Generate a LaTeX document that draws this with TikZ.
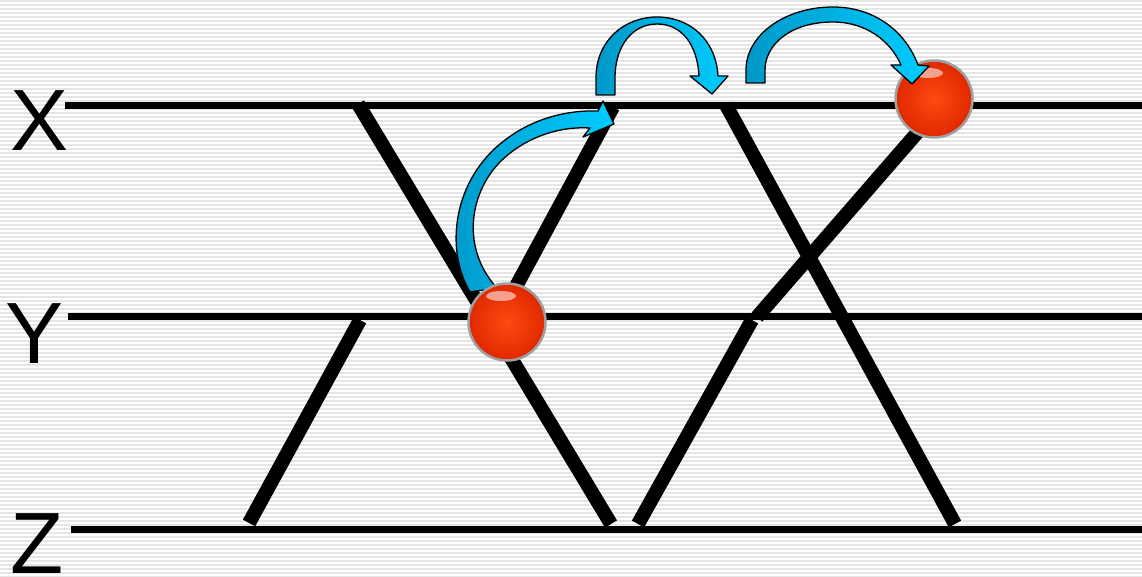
\documentclass[tikz,border=0pt]{standalone}
\usepackage{fontspec}
\setmainfont{Liberation Sans}
\definecolor{arrowdark}{HTML}{0098C8}
\definecolor{arrowlight}{HTML}{00CCFF}
\definecolor{ballred}{HTML}{FF3300}
\definecolor{balldark}{HTML}{E02800}
\definecolor{ballin}{HTML}{FF4A10}
\tikzset{
  stripe/.style={draw=gray!20, line width=1.4pt},
  level/.style={draw=black, line width=7pt},
  diag/.style={draw=black, line width=14pt, line cap=butt},
  lbl/.style={inner sep=0pt, anchor=base west, font=\fontsize{87}{87}\selectfont},
  ballnode/.style={circle, minimum size=77pt, inner sep=0pt, draw=gray!75, line width=2.5pt,
     inner color=ballin, outer color=balldark},
  bluearrow/.style={draw=black, line width=1.3pt, line join=round, left color=arrowdark, right color=arrowlight},
}
\begin{document}
\begin{tikzpicture}[x=1pt,y=-1pt]
\useasboundingbox (0,0) rectangle (1142,577);
\fill[white] (0,0) rectangle (1142,577);
\foreach \i in {0,...,144} \draw[stripe] (0,4*\i+1) -- (1142,4*\i+1);

% labels
\node[lbl] (lx) at (10,151) {X};
\node[lbl] (ly) at (5,363) {Y};
\node[lbl] (lz) at (10,573) {Z};

% level lines
\coordinate (xl) at (65,106);  \coordinate (xr) at (1142,106);
\coordinate (yl) at (68,316);  \coordinate (yr) at (1142,316);
\coordinate (zl) at (71,529);  \coordinate (zr) at (1142,529);
\draw[level] (xl) -- (xr);
\draw[level] (yl) -- (yr);
\draw[level] (zl) -- (zr);

% diagonals
\coordinate (a1) at (358,104); \coordinate (a2) at (611,524);
\coordinate (b1) at (613,107); \coordinate (b2) at (500,316);
\coordinate (c1) at (360,320); \coordinate (c2) at (249,523);
\coordinate (d1) at (726,105); \coordinate (d2) at (955,524);
\coordinate (e1) at (930,118); \coordinate (e2) at (757,317);
\coordinate (f1) at (752,320); \coordinate (f2) at (638,524);
\draw[diag] (a1) -- (a2);
\draw[diag] (b1) -- (b2);
\draw[diag] (c1) -- (c2);
\draw[diag] (d1) -- (d2);
\draw[diag] (e1) -- (e2);
\draw[diag] (f1) -- (f2);

% arrow 1 (from ball up to X)
\path[bluearrow] (470,292) .. controls (445,250) and (452,180) .. (505,140)
  .. controls (535,117) and (570,110) .. (598,111) -- (603,101) -- (614,124) -- (583,137) -- (590,128)
  .. controls (560,126) and (525,137) .. (500,162)
  .. controls (468,195) and (462,250) .. (497,288) -- cycle;

% balls
\node[ballnode] (ball1) at (507,322) {};
\fill[white, opacity=0.55] (ball1.center) ++(-6,-26) ellipse [x radius=15, y radius=5];
\node[ballnode] (ball2) at (934,99) {};
\fill[white, opacity=0.55] (ball2.center) ++(-6,-26) ellipse [x radius=15, y radius=5];

% arrow 2
\path[bluearrow] (596,95) -- (596,78) .. controls (596,40) and (625,17) .. (657,17)
  .. controls (690,17) and (716,40) .. (718,76) -- (728,76) -- (712,94) -- (690,76) -- (699,76)
  .. controls (697,42) and (680,24) .. (657,24)
  .. controls (633,24) and (615,45) .. (615,78) -- (615,95) -- cycle;

% arrow 3
\path[bluearrow] (746,83) -- (746,70) .. controls (746,35) and (785,7) .. (833,7)
  .. controls (873,7) and (905,30) .. (918,65) -- (929,66) -- (912,84) -- (891,65) -- (901,65)
  .. controls (890,40) and (865,22) .. (833,22)
  .. controls (790,22) and (765,45) .. (765,70) -- (765,83) -- cycle;
\end{tikzpicture}
\end{document}
